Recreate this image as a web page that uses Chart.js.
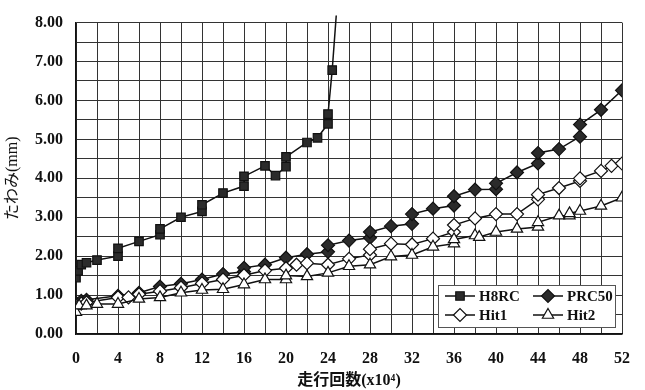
<!DOCTYPE html>
<html>
<head>
<meta charset="utf-8">
<script src="https://cdn.jsdelivr.net/npm/chart.js@4/dist/chart.umd.min.js"></script>
<style>
  html, body { margin: 0; padding: 0; background: #fff; }
  #wrap { width: 645px; height: 390px; }
</style>
</head>
<body>
<div id="wrap"><canvas id="c" width="645" height="390"></canvas></div>
<script>
// 走行回数 (x10^4) と たわみ (mm)
const h8rcX = [0, 0.2, 0.5, 1, 2, 4, 4, 6, 8, 8, 10, 12, 12, 14, 16, 16, 18, 19, 20, 20, 22, 23, 24, 24, 24.4, 24.9];
const h8rcY = [1.45, 1.62, 1.78, 1.83, 1.9, 2.0, 2.2, 2.38, 2.55, 2.7, 3.0, 3.15, 3.32, 3.62, 3.8, 4.05, 4.32, 4.07, 4.3, 4.55, 4.92, 5.04, 5.4, 5.65, 6.78, 8.6];

const prc50X = [0, 0.5, 1, 4, 6, 8, 10, 12, 14, 16, 16, 18, 20, 22, 24, 24, 26, 28, 28, 30, 32, 32, 34, 36, 36, 38, 40, 40, 42, 44, 44, 46, 48, 48, 50, 52];
const prc50Y = [0.8, 0.85, 0.88, 0.98, 1.06, 1.22, 1.29, 1.4, 1.54, 1.6, 1.7, 1.78, 1.96, 2.05, 2.11, 2.28, 2.4, 2.47, 2.62, 2.77, 2.83, 3.08, 3.22, 3.3, 3.54, 3.71, 3.72, 3.87, 4.15, 4.38, 4.65, 4.75, 5.07, 5.38, 5.76, 6.26];

const hit1X = [0, 0.5, 1, 4, 5, 6, 8, 10, 12, 14, 16, 18, 20, 21, 22, 24, 26, 28, 28, 30, 32, 34, 36, 36, 38, 40, 42, 44, 44, 46, 48, 48, 50, 51, 52];
const hit1Y = [0.72, 0.78, 0.81, 0.94, 0.94, 1.02, 1.1, 1.19, 1.3, 1.4, 1.51, 1.63, 1.69, 1.78, 1.82, 1.78, 1.93, 2.03, 2.18, 2.32, 2.3, 2.45, 2.62, 2.8, 2.97, 3.08, 3.08, 3.46, 3.58, 3.75, 3.93, 4.0, 4.19, 4.32, 4.38];

const hit2X = [0, 0.3, 1, 2, 4, 6, 8, 10, 12, 14, 16, 18, 20, 20, 22, 24, 26, 28, 30, 32, 34, 36, 36, 38, 38.4, 40, 42, 44, 44, 46, 47, 47, 48, 50, 52];
const hit2Y = [0.56, 0.73, 0.73, 0.77, 0.77, 0.9, 0.94, 1.06, 1.13, 1.15, 1.27, 1.4, 1.4, 1.5, 1.48, 1.57, 1.74, 1.78, 1.99, 2.03, 2.24, 2.32, 2.43, 2.53, 2.49, 2.62, 2.7, 2.75, 2.87, 3.04, 3.04, 3.1, 3.16, 3.29, 3.5];

const seriesNames = ['H8RC', 'PRC50', 'Hit1', 'Hit2'];

const xTickStep = 2;     // grid every 2, labels every 4
const yTickStep = 0.5;   // grid every 0.5, labels every 1.00

const serifFont = "'Liberation Serif', 'Noto Sans CJK JP', serif";
const ink = '#111';
const darkFill = '#2b2b2b';
const markerSize = { rect: 6, rectRot: 6.5, triangle: 6.5 };

function pairs(xs, ys) {
  return xs.map((x, i) => ({ x: x, y: ys[i] }));
}

function makeSet(label, xs, ys, style, fill) {
  const radius = markerSize[style];
  return {
    label: label,
    data: pairs(xs, ys),
    showLine: true,
    borderColor: ink,
    borderWidth: 1.5,
    pointStyle: style,
    pointBackgroundColor: fill,
    pointBorderColor: ink,
    pointBorderWidth: 1.2,
    pointRadius: ctx => (ctx.raw && ctx.raw.y > 8 ? 0 : radius),
    pointHoverRadius: radius,
    tension: 0
  };
}

const datasets = [
  makeSet(seriesNames[3], hit2X, hit2Y, 'triangle', '#fff'),
  makeSet(seriesNames[2], hit1X, hit1Y, 'rectRot', '#fff'),
  makeSet(seriesNames[1], prc50X, prc50Y, 'rectRot', darkFill),
  Object.assign(makeSet(seriesNames[0], h8rcX, h8rcY, 'rect', darkFill), {
    clip: { left: 0, top: 7, right: 0, bottom: 0 }
  })
];

// Boxed legend drawn inside the plot area, lower right
const innerLegend = {
  id: 'innerLegend',
  afterDraw(chart) {
    const ctx = chart.ctx;
    const ca = chart.chartArea;
    const w = 177, h = 42;
    const x0 = ca.right - 7 - w;
    const y0 = ca.bottom - 7 - h;
    ctx.save();
    ctx.fillStyle = '#fff';
    ctx.fillRect(x0, y0, w, h);
    ctx.strokeStyle = '#555';
    ctx.lineWidth = 1;
    ctx.strokeRect(x0 + 0.5, y0 + 0.5, w, h);
    ctx.font = 'bold 15px ' + serifFont;
    ctx.textBaseline = 'middle';
    ctx.textAlign = 'left';
    seriesNames.forEach((name, i) => {
      const ds = chart.data.datasets.find(d => d.label === name);
      const col = i % 2, row = Math.floor(i / 2);
      const cx = x0 + 22 + col * 88;
      const cy = y0 + 11 + row * 19;
      ctx.strokeStyle = ink;
      ctx.lineWidth = 1.5;
      ctx.beginPath();
      ctx.moveTo(cx - 15, cy);
      ctx.lineTo(cx + 15, cy);
      ctx.stroke();
      ctx.fillStyle = ds.pointBackgroundColor;
      ctx.strokeStyle = ink;
      ctx.lineWidth = 1.2;
      Chart.helpers.drawPoint(ctx, {
        pointStyle: ds.pointStyle,
        radius: markerSize[ds.pointStyle],
        rotation: 0,
        borderWidth: 1.2
      }, cx, cy);
      ctx.fillStyle = ink;
      ctx.fillText(name, cx + 19, cy + 1);
    });
    ctx.restore();
  }
};

new Chart(document.getElementById('c'), {
  type: 'scatter',
  data: { datasets: datasets },
  plugins: [innerLegend],
  options: {
    responsive: false,
    animation: false,
    events: [],
    layout: { padding: { left: 0, right: 21, top: 16, bottom: 0 } },
    plugins: {
      legend: { display: false },
      tooltip: { enabled: false }
    },
    scales: {
      x: {
        type: 'linear',
        min: 0,
        max: 52,
        afterFit(scale) { scale.height = 56; },
        border: { color: ink, width: 1.5 },
        grid: { color: '#333', lineWidth: 1, drawTicks: false },
        ticks: {
          stepSize: xTickStep,
          autoSkip: false,
          maxRotation: 0,
          padding: 15,
          color: ink,
          font: { family: serifFont, size: 16, weight: 'bold' },
          callback: v => (v % 4 === 0 ? String(v) : '')
        },
        title: {
          display: true,
          text: '走行回数(x10⁴)',
          color: ink,
          padding: { top: 0, bottom: 0 },
          font: { family: serifFont, size: 16, weight: 'bold' }
        }
      },
      y: {
        type: 'linear',
        min: 0,
        max: 8,
        afterFit(scale) { scale.width = 76; },
        border: { color: ink, width: 1.5 },
        grid: { color: '#333', lineWidth: 1, drawTicks: false },
        ticks: {
          stepSize: yTickStep,
          autoSkip: false,
          padding: 13,
          color: ink,
          font: { family: serifFont, size: 16, weight: 'bold' },
          callback: v => (Number.isInteger(v) ? v.toFixed(2) : '')
        },
        title: {
          display: true,
          text: 'たわみ(mm)',
          color: ink,
          padding: { top: 3, bottom: 0 },
          font: { family: serifFont, size: 16 }
        }
      }
    }
  }
});
</script>
</body>
</html>
